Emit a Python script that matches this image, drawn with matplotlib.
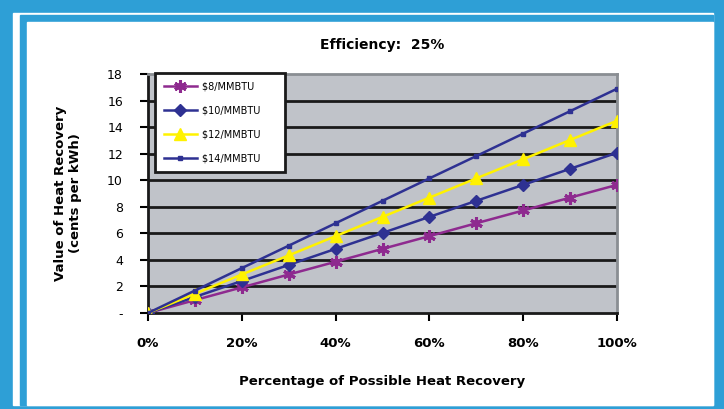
import matplotlib.pyplot as plt
from matplotlib.patches import Rectangle

recovery = [0, 10, 20, 30, 40, 50, 60, 70, 80, 90, 100]
price_8 = [0, 0.97, 1.93, 2.90, 3.86, 4.83, 5.79, 6.76, 7.72, 8.69, 9.65]
price_10 = [0, 1.21, 2.41, 3.62, 4.83, 6.03, 7.24, 8.45, 9.65, 10.86, 12.07]
price_12 = [0, 1.45, 2.90, 4.34, 5.79, 7.24, 8.69, 10.14, 11.58, 13.03, 14.48]
price_14 = [0, 1.69, 3.38, 5.07, 6.76, 8.45, 10.14, 11.82, 13.51, 15.20, 16.89]
y_ticks = [0, 2, 4, 6, 8, 10, 12, 14, 16, 18]
y_labels = ['-', '2', '4', '6', '8', '10', '12', '14', '16', '18']
x_ticks = [0, 20, 40, 60, 80, 100]

W, H = 724, 409
blue = '#2E9FD6'
fig = plt.figure(figsize=(W / 100, H / 100), dpi=100)
fig.patch.set_facecolor(blue)

# frame: outer blue, thin white gap, inner blue band, white panel
def frect(x0, y0, x1, y1, color):
    fig.patches.append(Rectangle((x0 / W, 1 - y1 / H), (x1 - x0) / W, (y1 - y0) / H,
                                 transform=fig.transFigure, color=color, zorder=-5))

frect(13, 13, 713, 405, 'white')
frect(20, 15, 713, 405, blue)
frect(27, 22, 713, 405, 'white')

ax = fig.add_axes([148 / W, 1 - 313 / H, 469 / W, 239 / H])
ax.set_zorder(2)
ax.set_facecolor('#C0C3C9')

for y in y_ticks[1:-1]:
    ax.axhline(y, color='#1a1a1a', lw=2, zorder=1)

ax.plot(recovery, price_8, color='#8E2A8F', lw=1.8, marker=(6, 2, 0), ms=9, mew=2.2,
        label='$8/MMBTU', zorder=3)
ax.plot(recovery, price_10, color='#2E3192', lw=1.8, marker='D', ms=6,
        label='$10/MMBTU', zorder=3)
ax.plot(recovery, price_12, color='#FFF200', lw=1.8, marker='^', ms=9,
        label='$12/MMBTU', zorder=3)
ax.plot(recovery, price_14, color='#2E3192', lw=1.8, marker='s', ms=3.5,
        label='$14/MMBTU', zorder=3)

ax.set_xlim(0, 100)
ax.set_ylim(0, 18)
ax.set_yticks(y_ticks)
ax.set_yticklabels(y_labels, fontsize=9)
ax.set_xticks(x_ticks)
ax.set_xticklabels([f'{x}%' for x in x_ticks], fontsize=9.5, fontweight='bold')
ax.tick_params(axis='y', length=6, width=1.5, pad=12, direction='out')
ax.tick_params(axis='x', length=6, width=1.5, pad=11, direction='out')

for s in ['left', 'bottom']:
    ax.spines[s].set_color('#1a1a1a')
    ax.spines[s].set_linewidth(2)
for s in ['right', 'top']:
    ax.spines[s].set_color('#8A8E93')
    ax.spines[s].set_linewidth(2)

ax.set_title('Efficiency:  25%', fontsize=10, fontweight='bold', pad=18)
ax.set_ylabel('Value of Heat Recovery\n(cents per kWh)', fontsize=9.5, fontweight='bold', labelpad=18)
ax.set_xlabel('Percentage of Possible Heat Recovery', fontsize=9.5, fontweight='bold', labelpad=18)

leg = ax.legend(loc='upper left', bbox_to_anchor=(0.015, 1.006), fontsize=7, frameon=True,
                fancybox=False, edgecolor='#1a1a1a', framealpha=1, handlelength=3.4,
                labelspacing=1.45, borderpad=0.9, handletextpad=0.5, borderaxespad=0)
leg.get_frame().set_linewidth(2)
for t in leg.get_texts():
    t.set_text(t.get_text() + '     ')

fig.savefig('out.png', dpi=100, facecolor=fig.get_facecolor())
